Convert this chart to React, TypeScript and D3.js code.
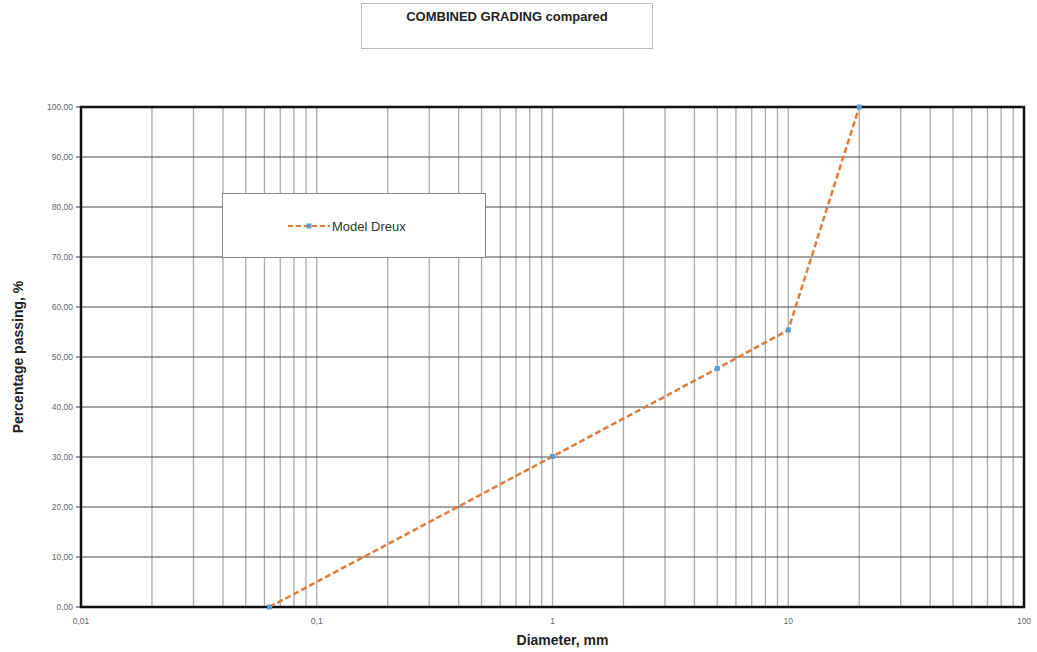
import React, { useEffect, useRef } from "react";
import * as d3 from "d3";

const diameters = [0.063, 1, 5, 10, 20];
const passing = [0, 30.1, 47.7, 55.4, 100];
const yTicks = [0, 10, 20, 30, 40, 50, 60, 70, 80, 90, 100];
const xTicks = [0.01, 0.1, 1, 10, 100];
const seriesName = "Model Dreux";
const title = "COMBINED GRADING compared";

export default function App() {
  const ref = useRef<SVGSVGElement>(null);

  useEffect(() => {
    const svg = d3.select(ref.current);
    svg.selectAll("*").remove();
    const left = 81, right = 1024, top = 107, bottom = 607;
    const font = "Liberation Sans, Arial, sans-serif";

    const x = d3.scaleLog().domain([0.01, 100]).range([left, right]);
    const y = d3.scaleLinear().domain([0, 100]).range([bottom, top]);

    // title box
    svg.append("rect").attr("x", 361.5).attr("y", 3.5).attr("width", 291).attr("height", 45)
      .attr("fill", "#fff").attr("stroke", "#bbb");
    svg.append("text").attr("x", 507).attr("y", 21).attr("text-anchor", "middle")
      .attr("font-family", font).attr("font-weight", "bold").attr("font-size", 13)
      .attr("fill", "#222").text(title);

    // vertical minor grid
    const minor: number[] = [];
    for (let e = -2; e < 2; e++) {
      for (let m = 1; m <= 9; m++) minor.push(m * Math.pow(10, e));
    }
    svg.append("g").selectAll("line").data(minor.filter(v => v > 0.01)).enter().append("line")
      .attr("x1", d => x(d)).attr("x2", d => x(d)).attr("y1", top).attr("y2", bottom)
      .attr("stroke", "#aaa").attr("stroke-width", 1.3);

    // horizontal grid
    svg.append("g").selectAll("line").data(yTicks).enter().append("line")
      .attr("x1", left - 5).attr("x2", right).attr("y1", d => y(d)).attr("y2", d => y(d))
      .attr("stroke", "#444").attr("stroke-width", 1);

    // frame
    svg.append("rect").attr("x", left).attr("y", top).attr("width", right - left).attr("height", bottom - top)
      .attr("fill", "none").attr("stroke", "#111").attr("stroke-width", 2.5);

    // y labels
    svg.append("g").selectAll("text").data(yTicks).enter().append("text")
      .attr("x", left - 8).attr("y", d => y(d) + 3).attr("text-anchor", "end")
      .attr("font-family", font).attr("font-size", 8.5).attr("fill", "#666")
      .text(d => d3.format(".2f")(d).replace(".", ","));

    // x labels
    svg.append("g").selectAll("text").data(xTicks).enter().append("text")
      .attr("x", d => x(d)).attr("y", bottom + 17).attr("text-anchor", "middle")
      .attr("font-family", font).attr("font-size", 8.5).attr("fill", "#666")
      .text(d => String(d).replace(".", ","));

    // axis titles
    svg.append("text").attr("transform", `translate(23,${(top + bottom) / 2}) rotate(-90)`)
      .attr("text-anchor", "middle").attr("font-family", font).attr("font-weight", "bold")
      .attr("font-size", 14).attr("fill", "#222").text("Percentage passing, %");
    svg.append("text").attr("x", (left + right) / 2 + 10).attr("y", 645).attr("text-anchor", "middle")
      .attr("font-family", font).attr("font-weight", "bold").attr("font-size", 14)
      .attr("fill", "#222").text("Diameter, mm");

    // series
    const pts = diameters.map((d, i) => [d, passing[i]] as [number, number]);
    const line = d3.line<[number, number]>().x(d => x(d[0])).y(d => y(d[1]));
    svg.append("path").attr("d", line(pts)).attr("fill", "none")
      .attr("stroke", "#e07b39").attr("stroke-width", 2.5).attr("stroke-dasharray", "6,3");
    svg.append("g").selectAll("rect").data(pts).enter().append("rect")
      .attr("x", d => x(d[0]) - 2.5).attr("y", d => y(d[1]) - 2.5).attr("width", 5).attr("height", 5)
      .attr("fill", "#5b9bd5");

    // legend
    svg.append("rect").attr("x", 222.5).attr("y", 193.5).attr("width", 263).attr("height", 64)
      .attr("fill", "#fff").attr("stroke", "#888");
    svg.append("line").attr("x1", 288).attr("x2", 330).attr("y1", 226).attr("y2", 226)
      .attr("stroke", "#e07b39").attr("stroke-width", 2).attr("stroke-dasharray", "5,3");
    svg.append("rect").attr("x", 306.5).attr("y", 223.5).attr("width", 5).attr("height", 5).attr("fill", "#5b9bd5");
    svg.append("text").attr("x", 332).attr("y", 231).attr("font-family", font).attr("font-size", 13)
      .attr("fill", "#333").text(seriesName);
  }, []);

  return (
    <svg ref={ref} width={1037} height={652}
      style={{ position: "absolute", left: 0, top: 0, background: "#fff" }} />
  );
}
